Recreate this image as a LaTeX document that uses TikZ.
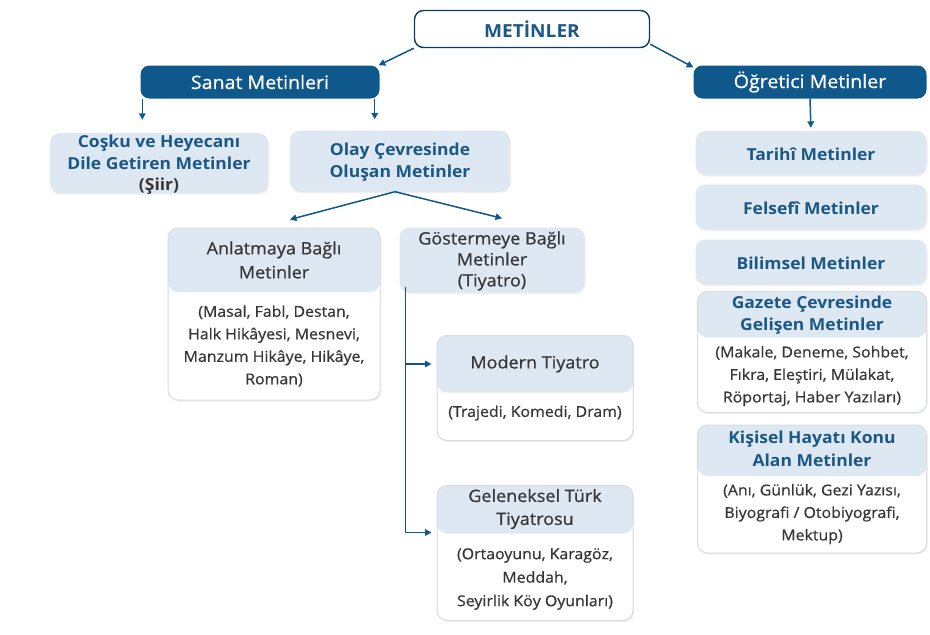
\documentclass[tikz,border=0pt]{standalone}
\usepackage{fontspec}
\setmainfont{Open Sans}[FakeStretch=1.06]
\newfontfamily\medfont{Open Sans}[FakeStretch=1.06, FakeBold=0.7]
\usetikzlibrary{arrows.meta,shadows}
\definecolor{mblue}{RGB}{14,88,140}
\definecolor{lightbg}{RGB}{222,232,243}
\definecolor{tblue}{RGB}{28,88,134}
\definecolor{tgray}{RGB}{55,55,55}
\definecolor{rimgray}{RGB}{215,220,226}
\begin{document}
\begin{tikzpicture}[x=1pt,y=-1pt,
    darkbox/.style={draw=none, fill=mblue, rounded corners=9pt, text=white,
        font=\medfont\fontsize{18.5}{21}\selectfont, inner sep=0pt},
    flatbox/.style={fill=lightbg, rounded corners=10pt, inner sep=0pt,
        drop shadow={opacity=0.12, shadow xshift=1pt, shadow yshift=-1.5pt}},
    cardbox/.style={fill=white, draw=rimgray, line width=1pt, rounded corners=10pt,
        inner sep=0pt, drop shadow={opacity=0.12, shadow xshift=1pt, shadow yshift=-1.5pt},
        path picture={\fill[lightbg] (path picture bounding box.north west)
            rectangle ([yshift=-#1]path picture bounding box.north east);}},
    btext/.style={text=tblue, align=center, font=\bfseries\fontsize{16.5}{22.5}\selectfont},
    htext/.style={text=tgray, align=center, font=\medfont\fontsize{17}{24}\selectfont},
    ltext/.style={text=tgray, align=center, font=\medfont\fontsize{15}{22.5}\selectfont},
    arr/.style={draw=mblue, line width=1.5pt, -{Triangle[length=6.5pt,width=6.5pt]}},
    rail/.style={draw=mblue, line width=1.5pt}]
    \fill[white] (0,0) rectangle (930,635);
    \useasboundingbox (0,0) rectangle (930,635);

    % top level
    \node[draw=mblue!70!black, line width=1.4pt, fill=white, rounded corners=9pt,
        minimum width=235pt, minimum height=37pt, inner sep=0pt,
        text=tblue, font=\bfseries\fontsize{18}{20}\selectfont] (meta) at (532,29) {METİNLER};
    \node[darkbox, minimum width=239pt, minimum height=33pt] (sanat) at (260,82) {Sanat Metinleri};
    \node[darkbox, minimum width=233pt, minimum height=33pt] (ogr) at (810,82) {Öğretici Metinler};

    % sanat metinleri
    \node[flatbox, minimum width=218pt, minimum height=60pt] (cosku) at (159,163) {};
    \node[btext, font=\bfseries\fontsize{16.5}{21.5}\selectfont] (coskut) at (159,165)
        {Coşku ve Heyecanı\\Dile Getiren Metinler\\\textcolor{tgray}{(Şiir)}};
    \node[flatbox, minimum width=220pt, minimum height=61pt] (olay) at (400,161) {};
    \node[btext] (olayt) at (400,162) {Olay Çevresinde\\Oluşan Metinler};

    \node[cardbox=64pt, minimum width=212pt, minimum height=172pt] (anl) at (274,314) {};
    \node[htext] (anlh) at (274,260) {Anlatmaya Bağlı\\Metinler};
    \node[ltext] (anlb) at (274,346) {(Masal, Fabl, Destan,\\Halk Hikâyesi, Mesnevi,\\Manzum Hikâye, Hikâye,\\Roman)};

    \node[flatbox, minimum width=185pt, minimum height=65pt] (gos) at (492,260) {};
    \node[htext, font=\medfont\fontsize{17}{21}\selectfont] (gost) at (492,261) {Göstermeye Bağlı\\Metinler\\(Tiyatro)};

    \node[cardbox=57pt, minimum width=196pt, minimum height=105pt] (mod) at (535,388) {};
    \node[htext] (modh) at (535,364) {Modern Tiyatro};
    \node[ltext] (modb) at (535,413) {(Trajedi, Komedi, Dram)};

    \node[cardbox=48pt, minimum width=196pt, minimum height=135pt] (gel) at (535,553) {};
    \node[htext, font=\medfont\fontsize{17}{23}\selectfont] (gelh) at (535,509) {Geleneksel Türk\\Tiyatrosu};
    \node[ltext, font=\medfont\fontsize{15}{23.5}\selectfont] (gelb) at (535,579) {(Ortaoyunu, Karagöz,\\Meddah,\\Seyirlik Köy Oyunları)};

    % ogretici metinler
    \node[flatbox, minimum width=231pt, minimum height=44pt] (tar) at (811,153) {};
    \node[btext] (tart) at (811,154) {Tarihî Metinler};
    \node[flatbox, minimum width=231pt, minimum height=45pt] (fel) at (811,207) {};
    \node[btext] (felt) at (811,208) {Felsefî Metinler};
    \node[flatbox, minimum width=231pt, minimum height=45pt] (bil) at (811,262) {};
    \node[btext] (bilt) at (811,263) {Bilimsel Metinler};

    \node[cardbox=46pt, minimum width=229pt, minimum height=121pt] (gaz) at (812,352) {};
    \node[btext] (gazh) at (812,315) {Gazete Çevresinde\\Gelişen Metinler};
    \node[ltext] (gazb) at (812,376) {(Makale, Deneme, Sohbet,\\Fıkra, Eleştiri, Mülakat,\\Röportaj, Haber Yazıları)};

    \node[cardbox=51pt, minimum width=229pt, minimum height=128pt] (kis) at (812,489) {};
    \node[btext] (kish) at (812,449) {Kişisel Hayatı Konu\\Alan Metinler};
    \node[ltext] (kisb) at (812,514) {(Anı, Günlük, Gezi Yazısı,\\Biyografi / Otobiyografi,\\Mektup)};

    % connectors
    \draw[arr] (meta.south west) -- ([xshift=-1pt]sanat.north east);
    \draw[arr] ([yshift=4pt]meta.south east) -- ([yshift=-2pt]ogr.north west);
    \draw[arr, shorten >=13pt] ([xshift=2pt]sanat.south west) -- ([xshift=2pt]sanat.south west |- cosku.north);
    \draw[arr, shorten >=11pt] ([xshift=-5pt]sanat.south east) -- ([xshift=-5pt]sanat.south east |- olay.north);
    \draw[arr, shorten >=3pt] (ogr.south) -- (tar.north);
    \draw[arr] ([xshift=-5pt]olay.south) -- ([xshift=16pt,yshift=8pt]anl.north);
    \draw[arr] ([xshift=-5pt]olay.south) -- ([xshift=10pt,yshift=9pt]gos.north);
    \coordinate (gtop) at ([xshift=6pt,yshift=6pt]gos.south west);
    \draw[rail] (gtop) -- (gtop |- gelh.south);
    \draw[arr, shorten >=5pt] (gtop |- modh) -- (mod.west |- modh);
    \draw[arr, shorten >=5pt] (gtop |- gelh.south) -- (gel.west |- gelh.south);
\end{tikzpicture}
\end{document}
